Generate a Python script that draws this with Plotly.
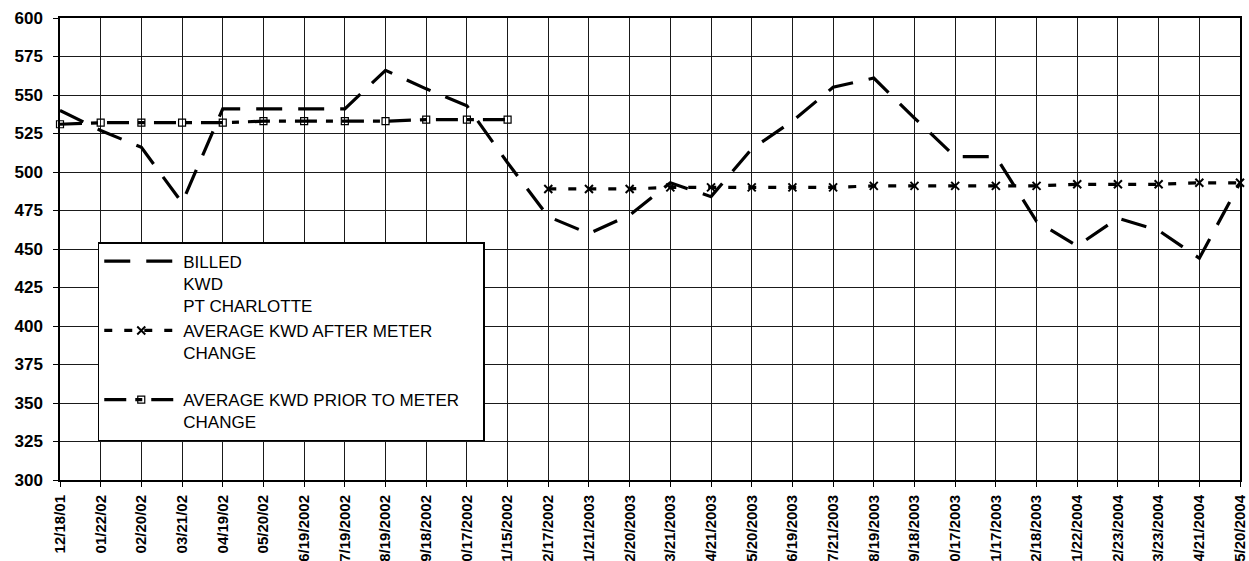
import plotly.graph_objects as go

# Meter read dates (billing periods)
dates = [
    "12/18/01", "01/22/02", "02/20/02", "03/21/02", "04/19/02", "05/20/02",
    "6/19/2002", "7/19/2002", "8/19/2002", "9/18/2002", "10/17/2002", "11/15/2002",
    "12/17/2002", "1/21/2003", "2/20/2003", "3/21/2003", "4/21/2003", "5/20/2003",
    "6/19/2003", "7/21/2003", "8/19/2003", "9/18/2003", "10/17/2003", "11/17/2003",
    "12/18/2003", "1/22/2004", "2/23/2004", "3/23/2004", "4/21/2004", "5/20/2004",
]

# Billed KWD, PT Charlotte
billed_kwd = [
    540, 527, 516, 480, 541, 541, 541, 541, 566, 554, 543, 506,
    471, 460, 472, 493, 484, 515, 533, 555, 561, 535, 510, 510,
    468, 452, 470, 462, 444, 493,
]

# Running average before the meter change (12/18/01 - 11/15/2002)
prior_dates = dates[:12]
avg_prior = [531, 532, 532, 532, 532, 533, 533, 533, 533, 534, 534, 534]

# Running average after the meter change (12/17/2002 - 5/20/2004)
after_dates = dates[12:]
avg_after = [489, 489, 489, 490, 490, 490, 490, 490, 491, 491,
             491, 491, 491, 492, 492, 492, 493, 493]

FONT = "Arial, Liberation Sans, sans-serif"
PAD = "\u00a0" * 4  # extra room on the right side of the legend box

fig = go.Figure()

fig.add_trace(go.Scatter(
    x=dates, y=billed_kwd, mode="lines",
    name="BILLED<br>KWD<br>PT CHARLOTTE",
    line=dict(color="black", width=3.2, dash="26px,16px"),
    cliponaxis=False,
))

fig.add_trace(go.Scatter(
    x=after_dates, y=avg_after, mode="lines+markers",
    name="AVERAGE KWD AFTER METER<br>CHANGE<br> ",
    line=dict(color="black", width=3.2, dash="8px,12px"),
    marker=dict(symbol="x-thin", size=8, color="black",
                line=dict(color="black", width=2)),
    cliponaxis=False,
))

fig.add_trace(go.Scatter(
    x=prior_dates, y=avg_prior, mode="lines+markers",
    name="AVERAGE KWD PRIOR TO METER" + PAD + "<br>CHANGE",
    line=dict(color="black", width=3.2, dash="22px,9px,7px,9px"),
    marker=dict(symbol="square-open", size=7, color="black",
                line=dict(color="black", width=1.2)),
    cliponaxis=False,
))

fig.update_layout(
    width=1249, height=561,
    margin=dict(l=60, r=9, t=18, b=81),
    paper_bgcolor="white", plot_bgcolor="white",
    font=dict(family=FONT, color="black"),
    showlegend=True,
    legend=dict(
        x=0.032, y=0.515, xanchor="left", yanchor="top",
        bgcolor="white", bordercolor="black", borderwidth=1.5,
        font=dict(family=FONT, size=17, color="black"),
        valign="top", itemwidth=74,
        traceorder="normal",
    ),
)

fig.update_xaxes(
    type="category", categoryorder="array", categoryarray=dates,
    range=[0, len(dates) - 1],
    tickangle=-90, automargin=False,
    tickfont=dict(family=FONT, size=15, weight="bold", color="black"),
    showgrid=True, gridcolor="#1a1a1a", gridwidth=1,
    showline=True, linecolor="black", linewidth=2, mirror=True,
    ticks="outside", ticklen=5, tickcolor="black",
    ticklabelstandoff=2,
    zeroline=False,
)

fig.update_yaxes(
    range=[300, 600], dtick=25, tick0=300, automargin=False,
    tickfont=dict(family=FONT, size=17, weight="bold", color="black"),
    showgrid=True, gridcolor="#1a1a1a", gridwidth=1,
    showline=True, linecolor="black", linewidth=1.5, mirror=True,
    ticks="outside", ticklen=5, tickcolor="black",
    ticklabelstandoff=7,
    zeroline=False,
)

fig.write_html("out.html")
